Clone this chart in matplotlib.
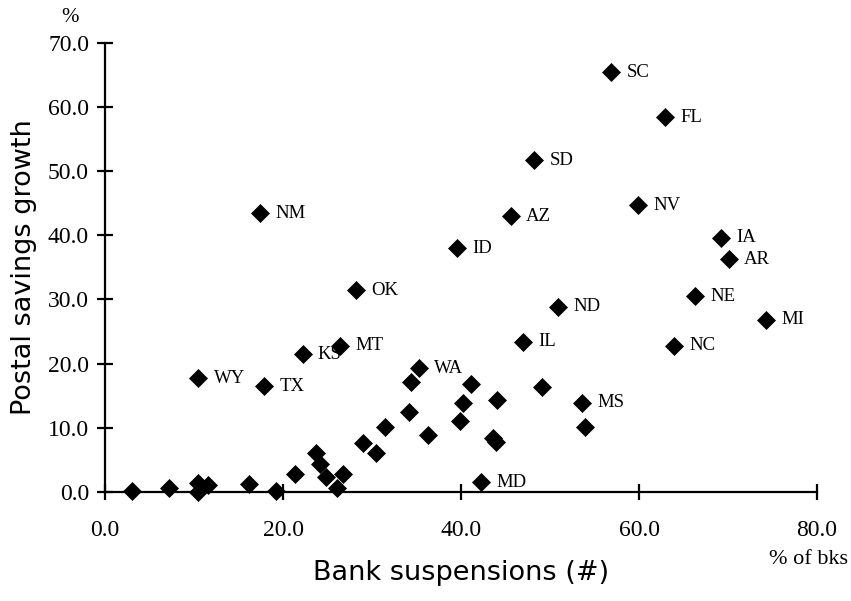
import matplotlib.pyplot as plt

# labelled states: bank suspensions (% of banks) vs postal savings growth (%)
states = ['SC', 'FL', 'SD', 'NV', 'AZ', 'NM', 'IA', 'ID', 'AR', 'OK', 'NE',
          'ND', 'MI', 'IL', 'MT', 'NC', 'KS', 'WA', 'WY', 'TX', 'MS', 'MD']
state_x = [56.9, 62.9, 48.2, 59.9, 45.6, 17.4, 69.2, 39.6, 70.1, 28.2, 66.3,
           50.9, 74.3, 47.0, 26.4, 63.9, 22.2, 35.3, 10.5, 17.9, 53.6, 42.3]
state_y = [65.4, 58.4, 51.7, 44.7, 43.0, 43.4, 39.6, 38.0, 36.3, 31.4, 30.5,
           28.9, 26.8, 23.4, 22.8, 22.8, 21.5, 19.3, 17.7, 16.5, 13.9, 1.5]

# unlabelled states
other_x = [3.0, 7.2, 10.5, 10.5, 11.6, 16.2, 19.2, 21.3, 23.7, 24.2, 24.8,
           26.1, 26.7, 29.0, 30.5, 31.5, 34.2, 34.4, 36.3, 39.9, 40.2, 41.1,
           43.6, 43.9, 44.1, 49.1, 53.9]
other_y = [0.15, 0.7, 1.35, 0.0, 1.1, 1.2, 0.15, 2.8, 6.1, 4.3, 2.4,
           0.6, 2.8, 7.7, 6.0, 10.2, 12.4, 17.2, 8.9, 11.1, 13.9, 16.8,
           8.4, 7.8, 14.4, 16.4, 10.2]

xticks = [0, 20, 40, 60, 80]
yticks = [0, 10, 20, 30, 40, 50, 60, 70]

serif = 'Liberation Serif'

fig = plt.figure(figsize=(8.51, 6.01), dpi=100)
ax = fig.add_axes([105 / 851, 1 - 492 / 601, (817 - 105) / 851, (492 - 42.7) / 601])

ax.plot(other_x, other_y, 'D', color='black', ms=9.5, mew=0.5, clip_on=False, zorder=3)
ax.plot(state_x, state_y, 'D', color='black', ms=9.5, mew=0.5, clip_on=False, zorder=3)
for name, x, y in zip(states, state_x, state_y):
    ax.annotate(name, (x, y), xytext=(11, 0), textcoords='offset points',
                va='center', ha='left', fontsize=13.5, family=serif)

ax.set_xlim(0, 80)
ax.set_ylim(0, 70)
ax.set_xticks(xticks)
ax.set_yticks(yticks)
ax.set_xticklabels(['%.1f' % t for t in xticks], family=serif, fontsize=17)
ax.set_yticklabels(['%.1f' % t for t in yticks], family=serif, fontsize=17)

for side in ['top', 'right']:
    ax.spines[side].set_visible(False)
for side in ['left', 'bottom']:
    ax.spines[side].set_linewidth(1.6)
ax.tick_params(direction='inout', length=11, width=1.6)
ax.tick_params(axis='x', pad=15)
ax.tick_params(axis='y', pad=6)

ax.set_xlabel('Bank suspensions (#)', fontsize=19.5, labelpad=13)
ax.set_ylabel('Postal savings growth', fontsize=19.5, labelpad=8)

fig.text(70 / 851, 1 - 18 / 601, '%', family=serif, fontsize=15, ha='center', va='center')
fig.text(848 / 851, 1 - 560 / 601, '% of bks', family=serif, fontsize=16, ha='right', va='center')

fig.savefig('out.png', dpi=100)
